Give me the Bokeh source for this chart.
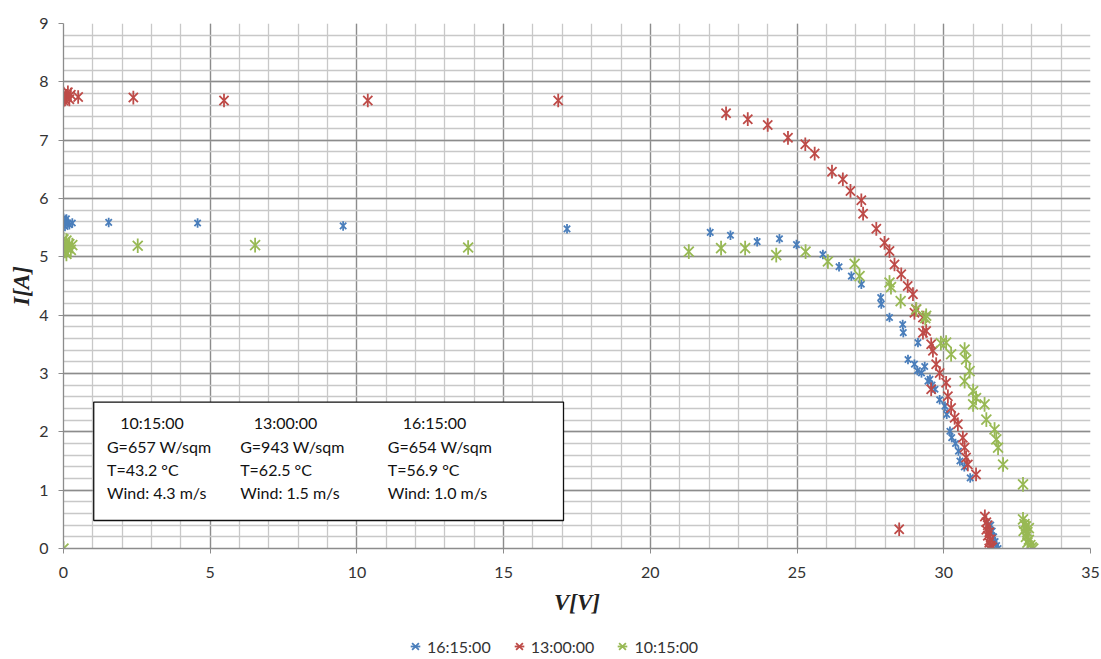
import math
from bokeh.plotting import figure
from bokeh.layouts import column
from bokeh.models import (Range1d, SingleIntervalTicker, BoxAnnotation, Label,
                          Legend, LegendItem, ColumnDataSource)
from bokeh.embed import file_html
from bokeh.resources import INLINE

# ---------------- data ----------------
series_names = ["16:15:00", "13:00:00", "10:15:00"]

v_1615 = [0.0, 0.05, 0.1, 0.15, 0.0, 0.2, 0.08, 0.3,
          1.54, 4.57, 9.53, 17.16,
          22.04, 22.73, 23.64, 24.4, 24.98, 25.88, 26.43, 26.85, 27.19, 27.85,
          27.87, 28.15, 28.6, 28.62, 29.12, 28.78, 29.0, 29.35, 29.24, 29.1,
          29.53, 29.46, 29.7, 29.6, 29.86, 30.04, 30.1, 30.21, 30.27, 30.4,
          30.5, 30.55, 30.7, 30.9,
          31.6, 31.65, 31.7, 31.75, 31.8, 31.85]
i_1615 = [5.6, 5.52, 5.65, 5.58, 5.66, 5.55, 5.6, 5.58,
          5.59, 5.58, 5.53, 5.48,
          5.42, 5.37, 5.26, 5.31, 5.21, 5.04, 4.83, 4.67, 4.53, 4.30,
          4.19, 3.96, 3.84, 3.70, 3.53, 3.24, 3.16, 3.12, 3.01, 3.05,
          2.90, 2.87, 2.73, 2.80, 2.55, 2.44, 2.30, 2.01, 1.90, 1.80,
          1.67, 1.50, 1.40, 1.21,
          0.40, 0.30, 0.20, 0.12, 0.05, 0.0]

v_1300 = [0.0, 0.05, 0.1, 0.15, 0.2, 0.08, 0.25, 0.0, 0.5,
          2.38, 5.47, 10.37, 16.86,
          22.58, 23.32, 24.0, 24.69, 25.28, 25.6, 26.19, 26.56, 26.82, 27.19,
          27.25, 27.7, 27.98, 28.15, 28.32, 28.55, 28.77, 28.95, 29.0, 29.06,
          29.29, 29.29, 29.4, 29.57, 29.63, 29.74, 29.86, 29.57, 30.08, 30.14,
          30.25, 30.37, 30.48, 30.65, 30.71, 30.76, 30.82, 31.1, 28.48,
          31.4, 31.45, 31.5, 31.45, 31.55, 31.5, 31.6, 31.55, 31.6, 31.65, 31.55]
i_1300 = [7.8, 7.7, 7.76, 7.82, 7.7, 7.74, 7.78, 7.68, 7.74,
          7.73, 7.68, 7.68, 7.68,
          7.46, 7.36, 7.26, 7.04, 6.93, 6.77, 6.46, 6.33, 6.13, 5.97,
          5.74, 5.48, 5.24, 5.10, 4.87, 4.70, 4.50, 4.36, 4.04, 4.10,
          3.96, 3.70, 3.73, 3.50, 3.39, 3.16, 3.01, 2.73, 2.84, 2.61,
          2.41, 2.24, 2.13, 1.90, 1.73, 1.56, 1.44, 1.27, 0.33,
          0.55, 0.45, 0.40, 0.32, 0.28, 0.22, 0.16, 0.10, 0.05, 0.02, 0.0]

v_1015 = [0.0, 0.05, 0.1, 0.15, 0.2, 0.0, 0.25, 0.3, 0.1,
          2.53, 6.53, 13.79, 0.0,
          21.31, 22.41, 23.23, 24.29, 25.29, 26.05, 26.96, 27.13, 28.15, 28.2,
          28.53, 29.06, 29.37, 29.4, 29.9, 30.08, 30.25, 30.71, 30.76, 30.88,
          30.71, 31.0, 31.1, 31.0, 31.39, 31.45, 31.73, 31.79, 31.85, 32.02,
          32.7,
          32.7, 32.75, 32.8, 32.72, 32.85, 32.8, 32.9, 32.85, 32.95, 33.0, 33.05, 32.9]
i_1015 = [5.2, 5.1, 5.28, 5.15, 5.22, 5.3, 5.12, 5.2, 5.05,
          5.19, 5.2, 5.16, 0.0,
          5.09, 5.15, 5.15, 5.03, 5.09, 4.92, 4.88, 4.67, 4.56, 4.48,
          4.24, 4.10, 3.95, 3.99, 3.52, 3.53, 3.33, 3.41, 3.24, 3.04,
          2.87, 2.70, 2.58, 2.47, 2.47, 2.21, 2.04, 1.87, 1.73, 1.44,
          1.10,
          0.50, 0.42, 0.38, 0.30, 0.28, 0.20, 0.15, 0.10, 0.06, 0.02, 0.0, 0.35]

box_headers = ["10:15:00", "13:00:00", "16:15:00"]
box_lines = [["G=657 W/sqm", "T=43.2 °C", "Wind: 4.3 m/s"],
             ["G=943 W/sqm", "T=62.5 °C", "Wind: 1.5 m/s"],
             ["G=654 W/sqm", "T=56.9 °C", "Wind: 1.0 m/s"]]

colors = ["#4A7EBB", "#BE4B48", "#98B954"]
sizes = [9, 13, 14]

# ---------------- main figure ----------------
p = figure(width=1100, height=634, output_backend="svg", toolbar_location=None,
           x_range=Range1d(0, 35), y_range=Range1d(0, 9),
           min_border_left=63, min_border_right=10, min_border_top=23,
           min_border_bottom=86)
p.outline_line_color = None
p.background_fill_color = "white"

p.xaxis.ticker = SingleIntervalTicker(interval=5, num_minor_ticks=5)
p.yaxis.ticker = SingleIntervalTicker(interval=1, num_minor_ticks=5)
p.xgrid.ticker = p.xaxis.ticker
p.ygrid.ticker = p.yaxis.ticker

for g in (p.xgrid, p.ygrid):
    g.grid_line_color = "#8C8C8C"
    g.grid_line_width = 1.3
    g.minor_grid_line_color = "#C8C8C8"
    g.minor_grid_line_width = 1.3

for ax in (p.xaxis, p.yaxis):
    ax.axis_line_color = "#8C8C8C"
    ax.axis_line_width = 1.3
    ax.major_tick_line_color = "#8C8C8C"
    ax.major_tick_out = 5
    ax.major_tick_in = 0
    ax.minor_tick_out = 0
    ax.minor_tick_in = 0
    ax.major_label_text_font = "Lato"
    ax.major_label_text_font_size = "16px"
    ax.major_label_text_color = "#333333"
    ax.axis_label_text_font = "Liberation Serif"
    ax.axis_label_text_font_style = "bold italic"
    ax.axis_label_text_font_size = "23px"
    ax.axis_label_text_color = "#222222"

p.xaxis.major_label_standoff = 13
p.yaxis.major_label_standoff = 10
p.xaxis.axis_label = "V[V]"
p.yaxis.axis_label = "I[A]"
p.xaxis.axis_label_standoff = 9
p.yaxis.axis_label_standoff = 2

# ---------------- series ----------------
data = [(v_1615, i_1615), (v_1300, i_1300), (v_1015, i_1015)]
sources = []
for name, (vx, iy), c, s in zip(series_names, data, colors, sizes):
    src = ColumnDataSource(dict(v=vx, i=iy))
    sources.append(src)
    p.scatter("v", "i", source=src, marker="x", size=s, line_color=c,
              line_width=1.8)
    p.scatter("v", "i", source=src, marker="dash", size=s * 1.05,
              angle=math.pi / 2, line_color=c, line_width=1.8)

# ---------------- info box ----------------
box = BoxAnnotation(left=1.03, right=17.04, bottom=0.48, top=2.51,
                    fill_color="white", fill_alpha=1.0,
                    line_color="#111111", line_width=1.3, line_alpha=1.0)
p.add_layout(box)

col_x_head = [1.93, 6.48, 11.56]
col_x_line = [1.48, 6.02, 11.05]
row_y = [2.155, 1.755, 1.356, 0.955]
for k in range(3):
    p.add_layout(Label(x=col_x_head[k], y=row_y[0], text=box_headers[k],
                       text_font="Lato", text_font_size="16px",
                       text_color="#111111", text_baseline="middle"))
    for j, t in enumerate(box_lines[k]):
        p.add_layout(Label(x=col_x_line[k], y=row_y[j + 1], text=t,
                           text_font="Lato", text_font_size="16px",
                           text_color="#111111", text_baseline="middle"))

# ---------------- legend strip (second small figure) ----------------
# the series are drawn again here, but the view range shows none of them;
# the figure only hosts the legend below the chart
q = figure(width=1100, height=24, output_backend="svg", toolbar_location=None,
           x_range=Range1d(-100, -99), y_range=Range1d(-100, -99),
           x_axis_location=None, y_axis_location=None,
           min_border_left=0, min_border_right=0, min_border_top=0,
           min_border_bottom=0)
q.outline_line_color = None
q.xgrid.visible = False
q.ygrid.visible = False

items = []
for name, src, c, s in zip(series_names, sources, colors, sizes):
    ra = q.scatter("v", "i", source=src, marker="x", size=s, line_color=c,
                   line_width=1.8)
    rb = q.scatter("v", "i", source=src, marker="dash", size=s,
                   angle=math.pi / 2, line_color=c, line_width=1.8)
    items.append(LegendItem(label=name, renderers=[ra, rb]))

legend = Legend(items=items, orientation="horizontal", location=(340, 0),
                label_text_font="Lato", label_text_font_size="16px",
                label_text_color="#333333", glyph_width=24, glyph_height=24,
                label_height=16, label_standoff=0, spacing=16, padding=0,
                margin=0, border_line_color=None, background_fill_alpha=0)
q.add_layout(legend, "center")

layout = column(p, q, spacing=0)
open("out.html", "w").write(file_html(layout, INLINE))
